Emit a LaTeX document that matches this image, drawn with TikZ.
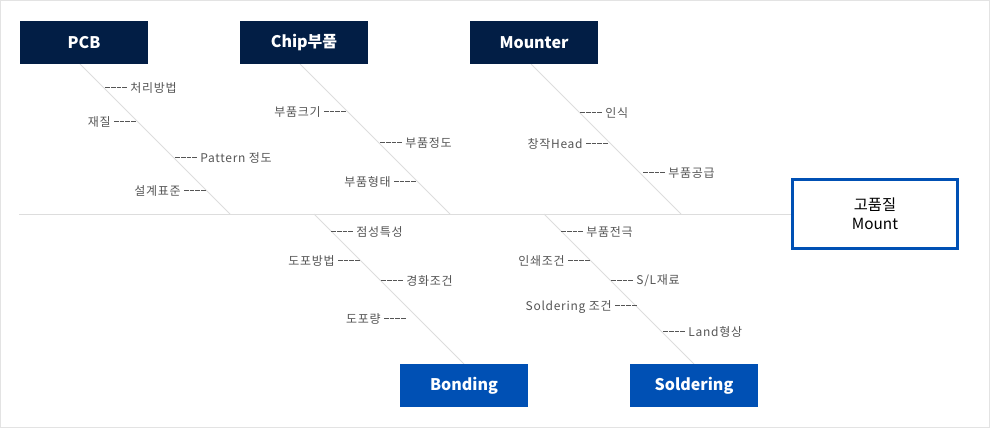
\documentclass[tikz,border=0pt]{standalone}
\usepackage{fontspec}
\setmainfont{Noto Sans CJK KR}
\definecolor{navy}{HTML}{021E45}
\definecolor{mblue}{HTML}{0050B4}
\definecolor{lblgray}{HTML}{555555}
\definecolor{rulegray}{HTML}{DDDDDD}
\definecolor{framegray}{HTML}{E3E3E3}
\newcommand{\onedash}{\rule[3.1pt]{3.4pt}{0.7pt}}
\newcommand{\fourdash}{\hbox{\onedash\kern0.9pt\onedash\kern0.9pt\onedash\kern0.9pt\onedash}}
\begin{document}
\begin{tikzpicture}[x=0.75pt,y=-0.75pt,
  hdrbox/.style={fill=navy,text=white,font=\bfseries\fontsize{12}{14}\selectfont,
    minimum width=96pt,minimum height=32.25pt,inner sep=0pt},
  botbox/.style={hdrbox,fill=mblue},
  mainbox/.style={draw=mblue,line width=2.25pt,fill=white,text=black,
    font=\fontsize{11.5}{14.5}\selectfont,align=center,
    minimum width=123.75pt,minimum height=51.75pt,inner sep=0pt},
  bone/.style={draw=rulegray,line width=0.75pt},
  lblfont/.style={inner sep=0pt,text=lblgray,font=\fontsize{9}{11}\selectfont\addfontfeature{LetterSpace=6}},
  lblL/.style={lblfont,anchor=west},
  lblR/.style={lblfont,anchor=east}]
\useasboundingbox (0,0) rectangle (990,428);
\draw[framegray,line width=0.75pt] (0.5,0.5) rectangle (989.5,427.5);

% main box and spine
\node[mainbox] (head) at (875,214) {고품질\\Mount};
\coordinate (tail) at (19,214);
\draw[bone] (tail) -- (head.west);

% junctions on the spine
\coordinate (j1) at (230,214);
\coordinate (j2) at (450,214);
\coordinate (j3) at (681,214);
\coordinate (j4) at (314,214);
\coordinate (j5) at (544,214);

% bone ends at the boxes
\coordinate (b1) at (80,64);
\coordinate (b2) at (300,64);
\coordinate (b3) at (531,64);
\coordinate (b4) at (464,364);
\coordinate (b5) at (694,364);
\draw[bone] (b1) -- (j1);
\draw[bone] (b2) -- (j2);
\draw[bone] (b3) -- (j3);
\draw[bone] (j4) -- (b4);
\draw[bone] (j5) -- (b5);

% category boxes
\node[hdrbox] (pcb) at (84,42.5) {PCB};
\node[hdrbox] (chip) at (304,42.5) {Chip부품};
\node[hdrbox] (mounter) at (534,42.5) {Mounter};
\node[botbox] (bonding) at (464,385.5) {Bonding};
\node[botbox] (soldering) at (694,385.5) {Soldering};

% PCB causes
\node[lblL] (p1) at (105,88) {\fourdash{} 처리방법};
\node[lblR] (p2) at (136,122) {재질 \fourdash};
\node[lblL] (p3) at (175,158) {\fourdash{} Pattern 정도};
\node[lblR] (p4) at (206,191) {설계표준 \fourdash};

% Chip causes
\node[lblR] (c1) at (346,112) {부품크기 \fourdash};
\node[lblL] (c2) at (380,143) {\fourdash{} 부품정도};
\node[lblR] (c3) at (416,182) {부품형태 \fourdash};

% Mounter causes
\node[lblL] (m1) at (580,113) {\fourdash{} 인식};
\node[lblR] (m2) at (608,144) {창작Head \fourdash};
\node[lblL] (m3) at (643,173) {\fourdash{} 부품공급};

% Bonding causes
\node[lblL] (o1) at (331,232) {\fourdash{} 점성특성};
\node[lblR] (o2) at (360,261) {도포방법 \fourdash};
\node[lblL] (o3) at (381,281) {\fourdash{} 경화조건};
\node[lblR] (o4) at (406,319) {도포량 \fourdash};

% Soldering causes
\node[lblL] (s1) at (561,232) {\fourdash{} 부품전극};
\node[lblR] (s2) at (590,261) {인쇄조건 \fourdash};
\node[lblL] (s3) at (611,281) {\fourdash{} S/L재료};
\node[lblR] (s4) at (637,307) {Soldering 조건 \fourdash};
\node[lblL] (s5) at (663,332) {\fourdash{} Land형상};
\end{tikzpicture}
\end{document}
